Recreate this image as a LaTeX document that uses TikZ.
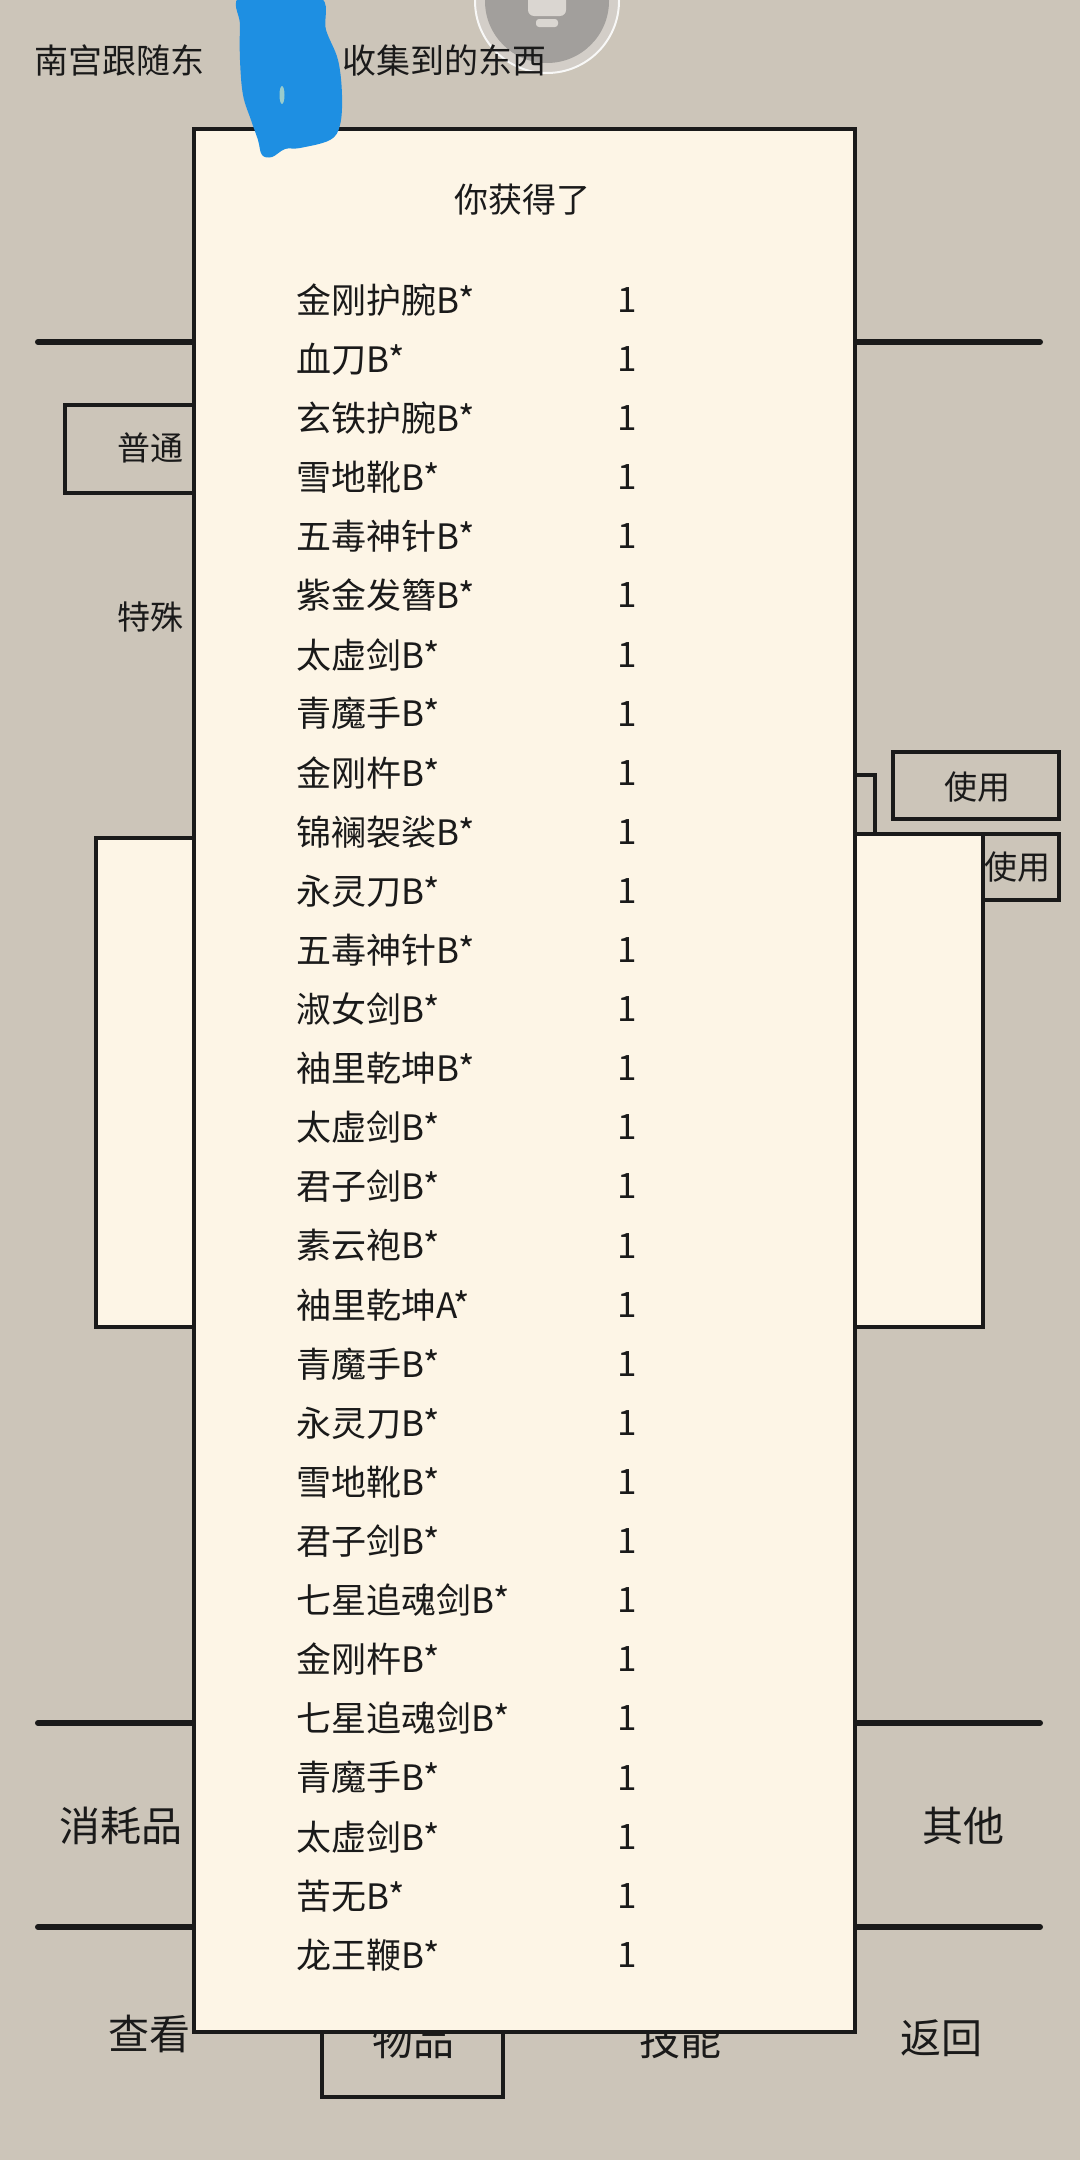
\documentclass[tikz,border=0pt]{standalone}
\usepackage{fontspec}
\newfontfamily\cjk{Noto Sans CJK SC}
\definecolor{bgc}{HTML}{CCC5B9}
\definecolor{paper}{HTML}{FDF5E6}
\definecolor{ink}{HTML}{1A1A1A}
\definecolor{scrib}{HTML}{1E8FE2}
\definecolor{ringc}{HTML}{D3CEC8}
\definecolor{discc}{HTML}{A29F9C}
\definecolor{iconc}{HTML}{DAD6D1}
\begin{document}
\begin{tikzpicture}[x=1pt,y=-1pt,
  lbl/.style={font=\cjk\fontsize{33pt}{38pt}\selectfont, inner sep=0pt, text=ink},
  biglbl/.style={font=\cjk\fontsize{41pt}{46pt}\selectfont, inner sep=0pt, text=ink},
  toptext/.style={font=\cjk\fontsize{34pt}{40pt}\selectfont, inner sep=0pt, text=ink, anchor=west},
  itemtext/.style={font=\cjk\fontsize{35pt}{40pt}\selectfont, inner sep=0pt, text=ink, anchor=west},
  qtytext/.style={font=\cjk\fontsize{35pt}{40pt}\selectfont, inner sep=0pt, text=ink},
  brush/.style={draw=ink, line width=6pt, line cap=round},
  frame/.style={draw=ink, line width=3.5pt},
  panelbox/.style={fill=paper, draw=ink, line width=4pt}]
\useasboundingbox (0,0) rectangle (1080,2160);
\clip (0,0) rectangle (1080,2160);
\fill[bgc] (0,0) rectangle (1080,2160);

% top round button
\fill[ringc, draw=white!85!ringc, line width=2pt] (547,1) circle (72);
\fill[discc] (547,1) circle (62);
\fill[iconc, rounded corners=6pt] (528,-12) rectangle (566,16);
\fill[iconc, rounded corners=3pt] (536,19) rectangle (558,27);

% top caption
\node[toptext] (cap1) at (34,60) {南宫跟随东};
\node[toptext] (cap2) at (342,60) {收集到的东西};

% tab divider lines
\coordinate (l1a) at (38,342);  \coordinate (l1b) at (200,342);
\coordinate (r1a) at (850,342); \coordinate (r1b) at (1040,342);
\coordinate (l2a) at (38,1723); \coordinate (l2b) at (200,1723);
\coordinate (r2a) at (850,1723); \coordinate (r2b) at (1040,1723);
\coordinate (l3a) at (38,1927); \coordinate (l3b) at (200,1927);
\coordinate (r3a) at (850,1927); \coordinate (r3b) at (1040,1927);
\draw[brush] (l1a) -- (l1b);
\draw[brush] (r1a) -- (r1b);
\draw[brush] (l2a) -- (l2b);
\draw[brush] (r2a) -- (r2b);
\draw[brush] (l3a) -- (l3b);
\draw[brush] (r3a) -- (r3b);

% left tabs
\draw[frame] (65,405) rectangle (215,493);
\node[lbl] (putong) at (150,448) {普通};
\node[lbl] (teshu) at (150,617) {特殊};

% right use buttons
\draw[frame] (840,775) rectangle (875,860);
\draw[frame] (893,752) rectangle (1059,819);
\node[lbl] (use1) at (977,787) {使用};
\draw[frame] (893,834) rectangle (1059,900);
\node[lbl] (use2) at (1017,867) {使用};

% side cream boxes
\draw[fill=paper, draw=ink, line width=3.5pt] (96,838) rectangle (210,1327);
\draw[fill=paper, draw=ink, line width=3.5pt] (840,834) rectangle (983,1327);

% bottom labels
\node[biglbl] (xhp) at (121,1826) {消耗品};
\node[biglbl] (qita) at (963,1826) {其他};
\node[biglbl] (chakan) at (149,2034) {查看};
\node[biglbl] (fanhui) at (941,2038) {返回};
\draw[frame] (322,1990) rectangle (503,2097);
\node[biglbl] (wupin) at (413,2040) {物品};
\node[biglbl] (jineng) at (680,2040) {技能};

% main panel
\draw[panelbox] (194,129) rectangle (855,2032);
\draw[ink, line width=3pt] (194,129) -- (855,129);
\node[font=\cjk\fontsize{34pt}{40pt}\selectfont, inner sep=0pt, text=ink] (title) at (522,200) {你获得了};

\foreach \t [count=\i] in {金刚护腕B*, 血刀B*, 玄铁护腕B*, 雪地靴B*, 五毒神针B*, 紫金发簪B*, 太虚剑B*, 青魔手B*, 金刚杵B*, 锦襕袈裟B*, 永灵刀B*, 五毒神针B*, 淑女剑B*, 袖里乾坤B*, 太虚剑B*, 君子剑B*, 素云袍B*, 袖里乾坤A*, 青魔手B*, 永灵刀B*, 雪地靴B*, 君子剑B*, 七星追魂剑B*, 金刚杵B*, 七星追魂剑B*, 青魔手B*, 太虚剑B*, 苦无B*, 龙王鞭B*} {
  \node[itemtext] (it\i) at (296,{300+(\i-1)*59.1}) {\t};
  \node[qtytext] (q\i) at (627,{300+(\i-1)*59.1}) {1};
}

% blue scribble over the caption
\fill[scrib] plot[smooth cycle, tension=0.6] coordinates {(242,-4) (318,-4) (326,30) (338,60) (342,95) (340,125) (330,140) (300,148) (285,149) (272,157) (262,155) (258,140) (251,120) (243,95) (240,60) (240,25)};
\fill[white!60!teal] (282,95) ellipse (2.5 and 9);
\end{tikzpicture}
\end{document}
